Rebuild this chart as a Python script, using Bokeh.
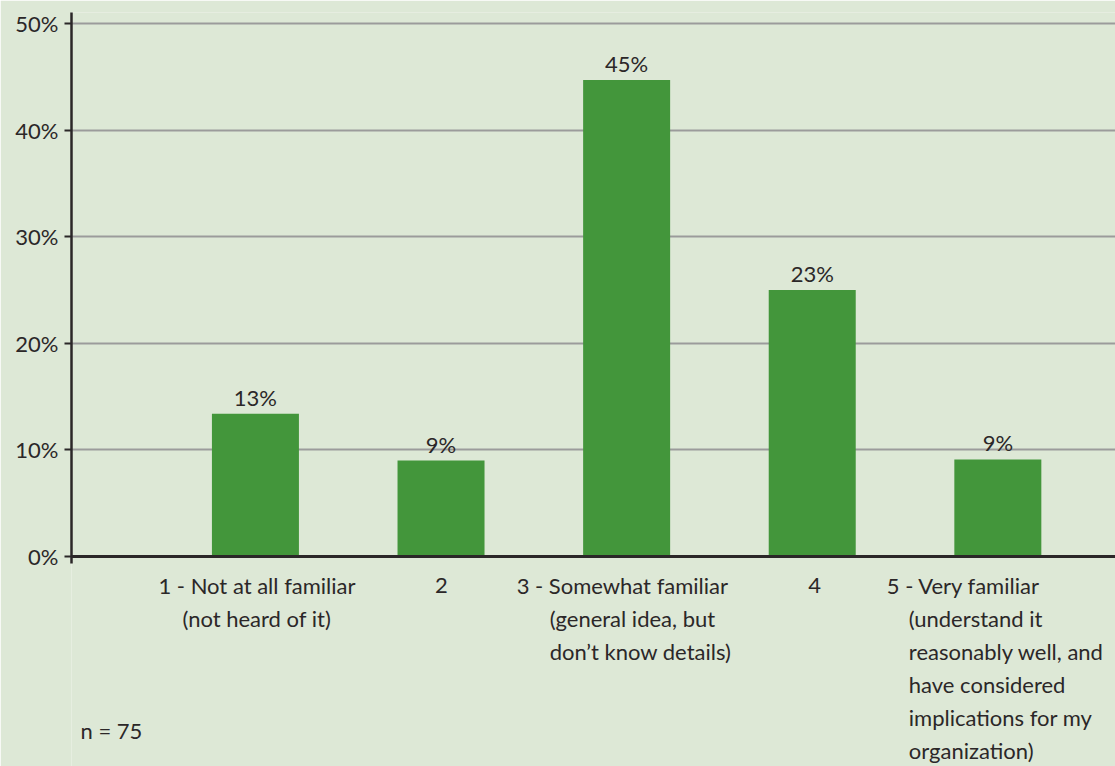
from bokeh.plotting import figure
from bokeh.models import Range1d, FixedTicker, Span, ColumnDataSource
from bokeh.embed import file_html
from bokeh.resources import INLINE
from bokeh.core.properties import value

# ---- data ----
categories = [1, 2, 3, 4, 5]
bar_values = [13.4, 9.0, 44.7, 25.0, 9.1]
value_labels = ["13%", "9%", "45%", "23%", "9%"]
category_lines = [
    ["1 - Not at all familiar", "(not heard of it)"],
    ["2"],
    ["3 - Somewhat familiar", "(general idea, but", "don\u2019t know details)"],
    ["4"],
    ["5 - Very familiar", "(understand it", "reasonably well, and",
     "have considered", "implications for my", "organization)"],
]
y_ticks = [0, 10, 20, 30, 40, 50]
y_tick_labels = ["0%", "10%", "20%", "30%", "40%", "50%"]
note_text = "n = 75"

# ---- style ----
BG = "#dde8d6"
BAR = "#43963b"
GRID = "#9b9b9b"
INK = "#2b2728"
FONT = "Lato"
FS = "22px"
PX_PER_UNIT = 10.66      # pixels per percentage point
X_PX = 185.6             # pixels per category
label_dx = [-97, -6, -110, -4, -111]
label_indent = [24, 0, 33, 0, 22]
LINE_PX = 33

W, H = 1115, 766
top_border = 12
frame_h = H - top_border
y_end = 51.03
y_start = y_end - frame_h / PX_PER_UNIT
frame_w = W - 71
x_start = 0.009
x_end = x_start + frame_w / X_PX

p = figure(width=W, height=H, output_backend="svg", toolbar_location=None,
           title=None, x_range=Range1d(x_start, x_end), y_range=Range1d(y_start, y_end),
           x_axis_location=None, min_border_left=71, min_border_right=0,
           min_border_top=top_border, min_border_bottom=0)
p.background_fill_color = BG
p.border_fill_color = BG
p.outline_line_color = None
p.xgrid.visible = False

p.ygrid.ticker = FixedTicker(ticks=y_ticks[1:])
p.ygrid.grid_line_color = GRID
p.ygrid.grid_line_width = 2

yax = p.yaxis[0]
yax.ticker = FixedTicker(ticks=y_ticks)
yax.major_label_overrides = {t: l for t, l in zip(y_ticks, y_tick_labels)}
yax.bounds = (-7 / PX_PER_UNIT, y_end)
yax.axis_line_color = INK
yax.axis_line_width = 2.5
yax.major_tick_line_color = INK
yax.major_tick_line_width = 2
yax.major_tick_out = 7
yax.major_tick_in = 0
yax.minor_tick_line_color = None
yax.major_label_standoff = 6
yax.major_label_text_font = FONT
yax.major_label_text_font_size = FS
yax.major_label_text_color = INK

src = ColumnDataSource(dict(x=categories, top=bar_values, lab=value_labels))
p.vbar(x="x", top="top", bottom=0, width=87 / X_PX, source=src,
       fill_color=BAR, line_color=None)
p.add_layout(Span(location=0, dimension="width", line_color=INK, line_width=3))

p.text(x="x", y="top", text="lab", source=src, text_align="center",
       text_baseline="bottom", y_offset=-3, text_font=value(FONT),
       text_font_size=FS, text_color=INK)

# category labels (hanging indent)
xs, ys, txt, xo = [], [], [], []
y_first = -29 / PX_PER_UNIT
for i, lines in enumerate(category_lines):
    for j, line in enumerate(lines):
        xs.append(categories[i])
        ys.append(y_first - j * LINE_PX / PX_PER_UNIT)
        txt.append(line)
        xo.append(label_dx[i] + (label_indent[i] if j > 0 else 0))
csrc = ColumnDataSource(dict(x=xs, y=ys, t=txt, xo=xo))
p.text(x="x", y="y", text="t", x_offset="xo", source=csrc, text_align="left",
       text_baseline="middle", text_font=value(FONT), text_font_size=FS,
       text_color=INK)

p.text(x=[x_start + 9 / X_PX], y=[-174 / PX_PER_UNIT], text=[note_text],
       text_align="left", text_baseline="middle", text_font=value(FONT),
       text_font_size=FS, text_color=INK)

open("out.html", "w").write(file_html(p, INLINE))
